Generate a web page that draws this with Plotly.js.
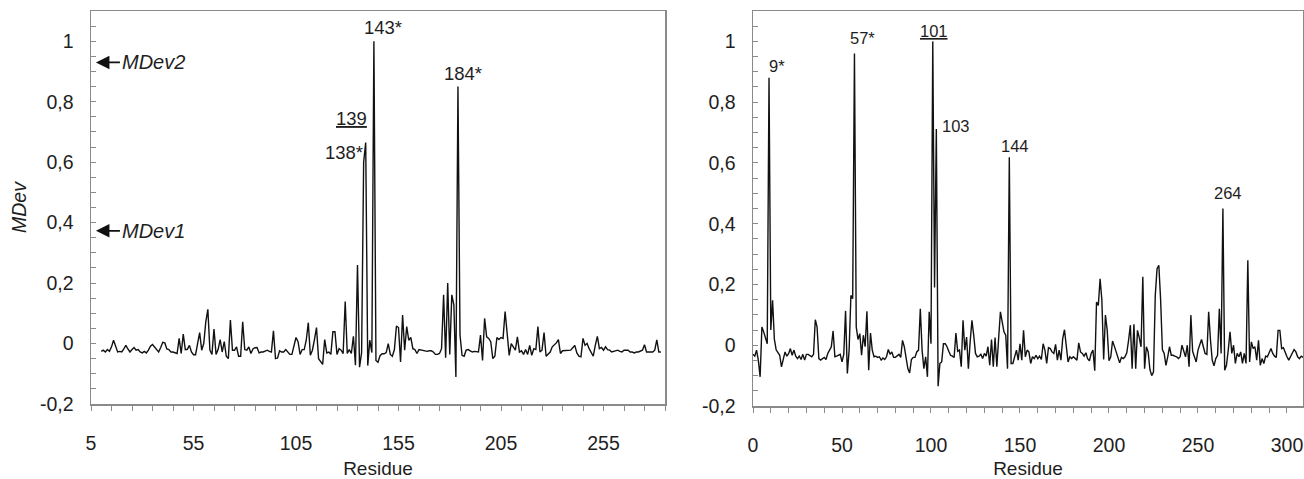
<!DOCTYPE html>
<html><head><meta charset="utf-8">
<script src="https://cdn.plot.ly/plotly-3.0.1.min.js"></script>
<style>html,body{margin:0;padding:0;background:#fff}#chart{width:1304px;height:479px}</style>
</head><body><div id="chart"></div>
<script>
// ---- data: left panel (residues 10..283) ----
const leftStart = 10;
const leftValues = [
-0.026,-0.022,-0.028,-0.020,-0.026,-0.011,0.011,-0.013,-0.028,-0.026,
-0.028,-0.018,-0.006,-0.018,-0.028,-0.020,-0.013,-0.022,-0.020,-0.028,
-0.031,-0.026,-0.031,-0.022,-0.009,-0.003,-0.011,-0.019,-0.028,-0.013,
0.004,0.002,-0.018,-0.020,-0.028,-0.028,-0.030,-0.033,0.017,-0.033,
0.031,-0.020,-0.019,-0.006,-0.028,-0.037,-0.037,-0.006,0.036,-0.022,
0.000,0.072,0.113,-0.022,-0.036,0.048,-0.036,-0.020,0.013,-0.028,
0.006,-0.042,-0.050,0.078,-0.022,-0.022,-0.011,-0.042,-0.042,0.072,
-0.020,-0.022,-0.011,-0.033,-0.018,-0.014,-0.013,-0.031,-0.028,-0.028,
-0.024,-0.022,-0.026,-0.028,0.042,-0.050,-0.048,-0.024,-0.028,-0.028,
-0.020,-0.028,-0.036,-0.036,-0.011,0.020,0.006,-0.036,-0.020,-0.020,
0.011,0.069,-0.039,-0.022,0.013,0.053,-0.050,-0.061,-0.069,0.013,
-0.031,-0.028,-0.036,0.039,0.039,-0.036,-0.017,-0.022,-0.033,0.139,
-0.033,-0.020,-0.033,0.024,-0.072,0.260,-0.078,-0.030,0.600,0.665,
-0.073,0.011,-0.030,1.000,-0.056,-0.062,-0.040,-0.034,-0.034,-0.030,
0.000,-0.036,-0.042,-0.020,0.058,0.053,-0.061,0.094,-0.022,0.056,
0.011,0.020,-0.017,-0.020,-0.033,-0.020,-0.022,-0.024,-0.024,-0.026,
-0.024,-0.024,-0.028,-0.036,-0.036,-0.033,-0.017,0.161,-0.047,0.200,
-0.036,0.161,0.128,-0.111,0.850,0.028,-0.039,-0.042,-0.022,-0.020,
-0.024,-0.028,-0.026,-0.028,-0.028,0.028,-0.056,0.083,0.022,0.017,
0.006,-0.050,-0.042,0.020,0.013,0.020,0.017,0.106,0.033,-0.039,
0.000,-0.013,-0.022,0.022,-0.028,-0.024,-0.036,-0.020,-0.036,-0.006,
-0.039,-0.017,-0.020,0.056,-0.028,-0.022,0.036,-0.042,-0.033,-0.028,
-0.011,-0.006,0.002,0.013,-0.033,-0.024,-0.024,-0.024,-0.024,-0.022,
-0.014,-0.006,-0.031,-0.042,-0.044,0.017,-0.006,0.000,-0.017,-0.028,
-0.042,-0.006,0.024,-0.017,-0.013,-0.022,-0.011,-0.020,-0.022,-0.028,
-0.026,-0.022,-0.022,-0.026,-0.028,-0.022,-0.022,-0.022,-0.028,-0.028,
-0.031,-0.028,-0.028,-0.024,-0.022,-0.004,-0.028,-0.028,-0.028,-0.028,
-0.022,0.012,-0.028,-0.028
];
// ---- data: right panel (residues 0..309) ----
const rightStart = 0;
const rightValues = [
-0.030,-0.036,-0.016,-0.050,-0.104,0.060,0.044,0.022,0.005,0.880,
0.050,0.148,0.020,-0.015,-0.025,-0.033,-0.071,-0.040,-0.022,-0.036,
-0.028,-0.011,-0.033,-0.016,-0.036,-0.044,-0.036,-0.047,-0.030,-0.049,
-0.030,-0.030,-0.033,-0.038,-0.030,0.084,0.060,-0.044,-0.049,-0.044,
-0.040,-0.047,-0.027,-0.016,-0.005,0.047,-0.038,-0.036,-0.033,-0.030,
-0.055,-0.030,0.113,-0.093,-0.016,0.164,0.153,0.960,0.060,0.019,
0.038,-0.033,0.033,-0.005,0.112,-0.082,0.040,-0.016,-0.038,-0.036,
-0.040,-0.038,-0.049,-0.042,-0.047,-0.038,-0.014,-0.030,-0.022,-0.040,
-0.040,-0.036,-0.030,-0.040,0.016,-0.005,-0.049,-0.077,-0.091,-0.047,
-0.040,-0.040,-0.022,-0.016,0.120,-0.016,-0.077,-0.038,-0.104,0.110,
0.005,1.000,0.190,0.712,-0.135,-0.060,-0.055,0.005,0.005,-0.005,
-0.020,-0.033,-0.036,-0.040,0.040,-0.020,-0.016,-0.071,0.082,-0.016,
0.027,-0.077,0.011,0.082,0.033,-0.027,-0.038,-0.036,-0.030,-0.044,
-0.027,-0.036,-0.005,-0.066,0.019,-0.071,0.025,-0.071,0.022,0.110,
0.077,0.044,0.033,-0.077,0.619,-0.060,-0.060,-0.038,-0.016,-0.049,
0.005,-0.049,0.049,-0.038,-0.016,-0.022,-0.060,-0.038,-0.044,-0.033,
-0.044,-0.036,-0.047,0.005,-0.016,-0.060,-0.008,-0.011,-0.022,-0.027,
0.003,-0.049,-0.016,-0.049,0.022,0.051,0.005,-0.055,-0.038,-0.044,
-0.038,-0.044,-0.049,0.008,-0.022,-0.027,-0.036,-0.025,-0.044,-0.051,
-0.027,-0.016,-0.084,0.142,0.131,0.219,0.148,-0.047,0.099,0.049,
-0.051,-0.038,0.014,-0.003,-0.022,-0.038,-0.058,-0.040,-0.044,-0.038,
-0.025,0.016,0.066,-0.077,0.069,-0.077,0.049,0.025,-0.005,0.225,
-0.077,-0.005,-0.022,-0.080,-0.100,-0.088,0.164,0.252,0.263,0.150,
-0.014,-0.027,-0.066,-0.038,-0.005,-0.033,-0.033,-0.036,-0.038,-0.044,
-0.038,0.000,-0.022,-0.038,0.000,-0.071,0.099,-0.020,-0.038,-0.055,
-0.016,0.005,0.019,-0.005,-0.027,-0.030,0.110,0.019,-0.049,-0.068,
-0.044,-0.033,0.120,-0.027,0.450,-0.082,-0.066,-0.016,0.044,-0.027,
0.000,-0.060,-0.027,-0.038,-0.022,-0.060,-0.027,-0.060,0.280,-0.055,
0.011,-0.011,-0.005,-0.049,0.016,-0.066,-0.044,-0.060,-0.036,-0.038,
-0.027,-0.011,-0.027,-0.036,-0.040,0.049,0.049,-0.011,-0.008,-0.027,
-0.038,-0.049,-0.036,-0.022,-0.014,-0.022,-0.038,-0.044,-0.036,-0.040
];
// ---- ticks and labels ----
const leftTickVals = [5,55,105,155,205,255];
const rightTickVals = [0,50,100,150,200,250,300];
const yTickVals = [-0.2,0,0.2,0.4,0.6,0.8,1];
const yTickText = ['-0,2','0','0,2','0,4','0,6','0,8','1'];
const leftPeakText = ['143*','184*','<u>139</u>','138*'];
const rightPeakText = ['9*','57*','<u>101</u>','103','144','264'];
const markerText = ['<i>MDev2</i>','<i>MDev1</i>'];
const markerLevels = [0.93, 0.373];

const leftX = leftValues.map((v,i)=>leftStart+i);
const rightX = rightValues.map((v,i)=>rightStart+i);

const FONT = 'Liberation Sans, Arial, Helvetica, sans-serif';
const AX = '#8a8a8a';
const TXT = '#1e1e1e';

const traces = [
  {x:leftX, y:leftValues, type:'scatter', mode:'lines', line:{color:'#111', width:1.4}, xaxis:'x', yaxis:'y', hoverinfo:'skip'},
  {x:rightX, y:rightValues, type:'scatter', mode:'lines', line:{color:'#111', width:1.4}, xaxis:'x2', yaxis:'y2', hoverinfo:'skip'}
];

function xAxis(dom, range, vals, tick0, title){
  return {domain:dom, range:range, tickmode:'array', tickvals:vals, ticktext:vals.map(String),
    ticks:'outside', ticklen:5, tickcolor:AX, tickwidth:1,
    minor:{tickmode:'linear', tick0:tick0, dtick:10, ticks:'outside', ticklen:5, tickcolor:AX, tickwidth:1},
    showline:true, mirror:true, linecolor:AX, linewidth:1.5, showgrid:false, zeroline:false,
    tickfont:{family:FONT, size:19.5, color:TXT}, ticklabelstandoff:16,
    title:{text:title, font:{family:FONT, size:19, color:TXT}, standoff:16}};
}
function yAxis(dom, title){
  return {domain:dom, range:[-0.2,1.1], tickmode:'array', tickvals:yTickVals, ticktext:yTickText,
    ticks:'inside', ticklen:5, tickcolor:AX, tickwidth:1,
    minor:{tickmode:'linear', tick0:0, dtick:0.05, ticks:'inside', ticklen:5, tickcolor:AX, tickwidth:1},
    showline:true, mirror:true, linecolor:AX, linewidth:1.5, showgrid:false, zeroline:false,
    tickfont:{family:FONT, size:19.5, color:TXT}, ticklabelstandoff:12,
    title:{text:title, font:{family:FONT, size:19.5, color:TXT}, standoff:8}};
}

const W = 1304, H = 479;
const annFontL = {family:FONT, size:18.5, color:TXT};
const annFontR = {family:FONT, size:16.5, color:TXT};
const leftPos = [[147.4,1.047],[186.6,0.892],[132.2,0.743],[128.2,0.631]];
const rightPos = [[13.5,0.919],[61.5,1.011],[101.8,1.034],[113.8,0.721],[147.3,0.657],[266.6,0.5]];
const annotations = [];
leftPeakText.forEach((t,i)=>annotations.push({xref:'x', yref:'y', x:leftPos[i][0], y:leftPos[i][1], text:t, showarrow:false, font:annFontL, xanchor:'center', yanchor:'middle'}));
rightPeakText.forEach((t,i)=>annotations.push({xref:'x2', yref:'y2', x:rightPos[i][0], y:rightPos[i][1], text:t, showarrow:false, font:annFontR, xanchor:'center', yanchor:'middle'}));
markerText.forEach((t,i)=>annotations.push({xref:'x', yref:'y', x:7.4, y:markerLevels[i], text:t, showarrow:true, ax:24, ay:0, xanchor:'left', arrowhead:2, arrowsize:1.5, arrowwidth:1.8, arrowcolor:'#111', font:{family:FONT, size:20, color:TXT}}));

const layout = {
  width:W, height:H, margin:{l:0,r:0,t:0,b:0}, paper_bgcolor:'#fff', plot_bgcolor:'#fff',
  showlegend:false, hovermode:false,
  xaxis: xAxis([91/W, 665/W], [5,285], leftTickVals, 5, 'Residue'),
  yaxis: yAxis([(H-404)/H, (H-11)/H], '<i>MDev</i>'),
  xaxis2: Object.assign(xAxis([753/W, 1303/W], [0,309], rightTickVals, 0, 'Residue'), {anchor:'y2'}),
  yaxis2: Object.assign(yAxis([(H-406)/H, (H-11)/H], ''), {anchor:'x2'}),
  annotations: annotations
};
layout.xaxis.anchor = 'y';
layout.yaxis.anchor = 'x';
Plotly.newPlot('chart', traces, layout, {staticPlot:true, displayModeBar:false});
</script></body></html>
